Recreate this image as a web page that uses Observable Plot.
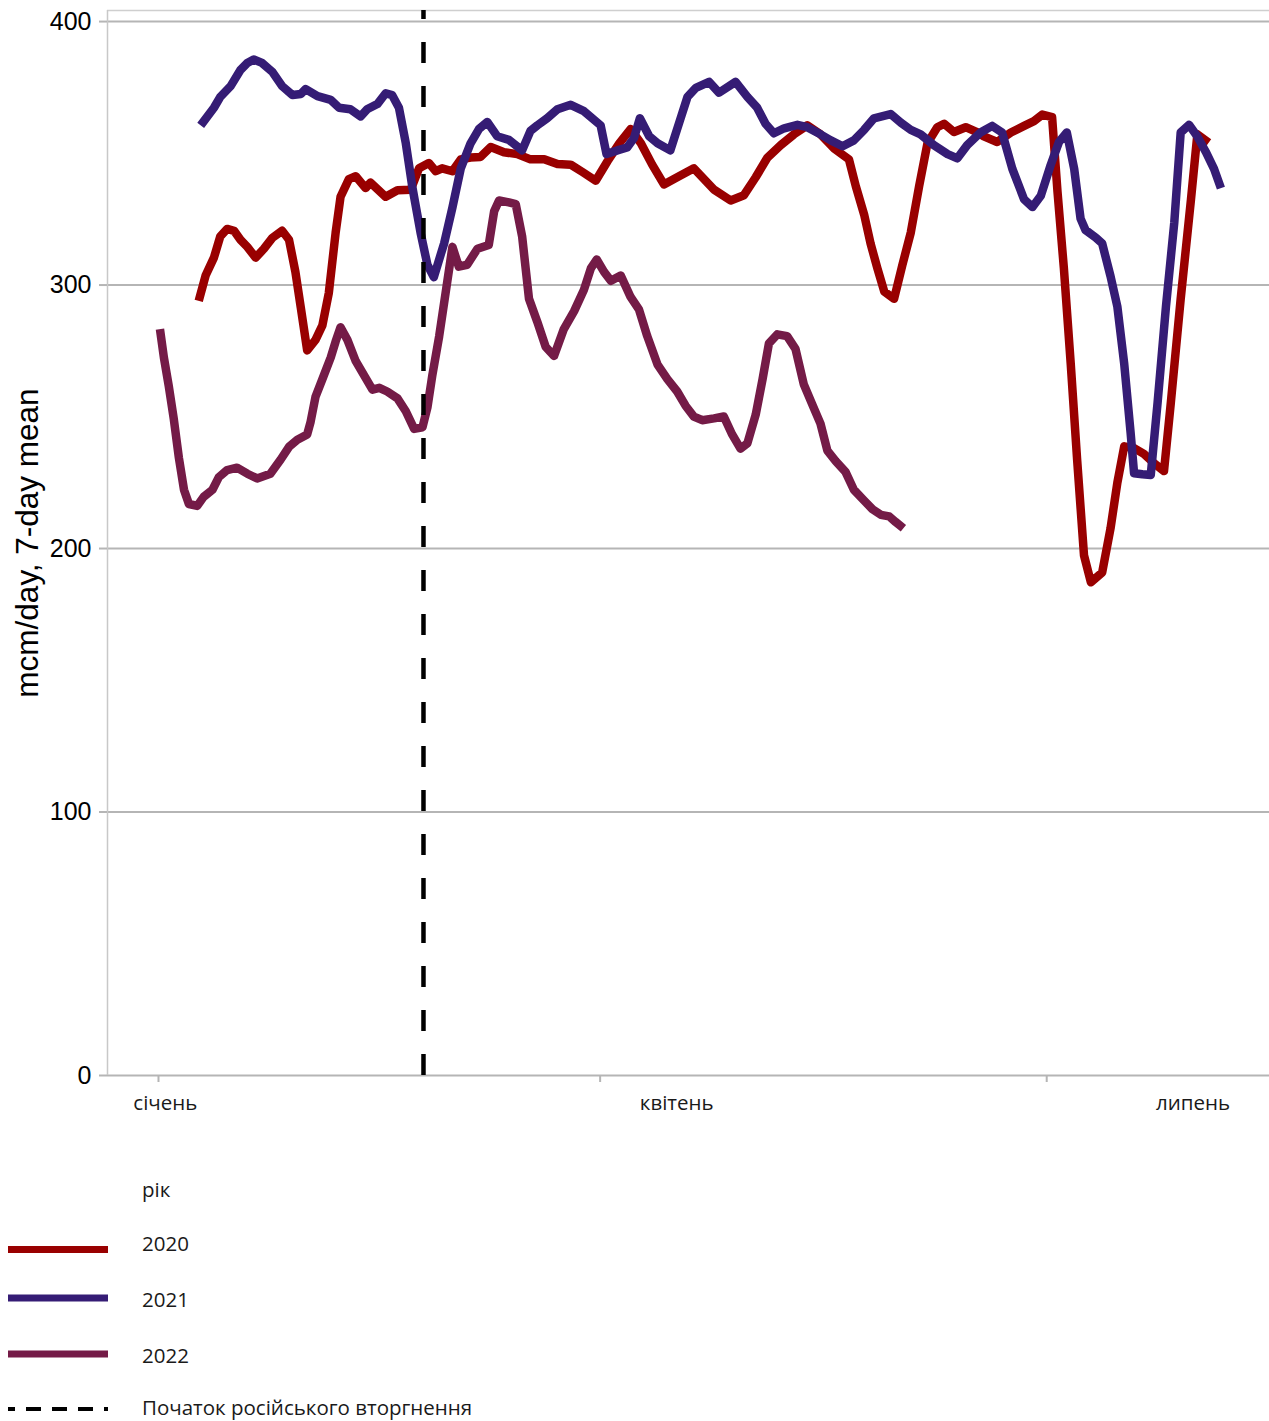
<!DOCTYPE html>
<html><head><meta charset="utf-8">
<script src="https://cdn.jsdelivr.net/npm/d3@7"></script>
<script src="https://cdn.jsdelivr.net/npm/@observablehq/plot@0.6"></script>
<style>
body{margin:0;background:#fff;}
#wrap{position:relative;width:1269px;height:1421px;overflow:hidden;}
#wrap svg{display:block;}
</style></head><body><div id="wrap"></div>
<script>
// ---- data (day of year, Jan 1 = 0) ----
const days2020=[8.2,9.6,11.3,12.6,14,15.4,16.7,18.1,19.8,21.5,23.2,25.2,26.6,27.9,29,30.3,32,33.4,34.7,36.1,37.1,38.8,40.2,42.2,43.2,46.3,48.7,51.4,53.1,55.1,56.5,57.8,59.9,61.6,63.6,65.6,67.7,70.4,73.1,75.8,78.6,81.3,84,86.4,89.1,91.5,93.9,96.2,98.3,100.6,103,105.7,109.1,113.2,116.6,119.3,121.7,124.1,126.8,129.5,132.2,134.9,137.7,140.7,142.1,143.8,145.1,146.5,147.9,149.9,151.6,153.3,155,156.7,158.7,160.1,162.1,164.5,166.9,168.2,170.9,173.7,176.4,178.4,180.1,182.1,183.2,184.5,185.9,187.2,188.6,190,192.3,194,195.4,196.8,198.8,200.8,202.9,204.9,206.3,208.3,210.4,211.7,214];
const vals2020=[294,303.6,310.4,318.5,321.3,320.6,317.2,314.5,310.4,313.8,317.9,320.6,317.2,305,291.4,275.2,279.2,284.7,296.9,319.9,333.5,340.2,341.3,336.8,338.9,333.5,336,336.2,344.3,346.3,343.2,344.3,343.2,347.7,348.4,348.6,352.4,350.4,349.7,347.7,347.7,345.9,345.7,342.9,339.6,347,353.8,359.2,353.8,345.7,338.2,340.9,344.3,336.2,332.1,334.1,340.9,348.4,353.1,357.2,360.6,357.2,351.8,347.7,337.5,326.7,315.8,306.3,297.5,294.8,307.7,319.9,337.5,353.8,359.9,361.2,358.1,359.9,357.9,356.4,354.3,357.9,360.4,362.2,364.7,363.7,335.4,306.3,270,233.7,197.4,187.2,190.9,207.6,225,238.8,238.1,235.9,232.3,229.4,255.5,294.7,332.5,357.2,354];

const days2021=[8.6,11.3,12.6,14.7,16.7,18.1,19.4,21.1,23.2,25.2,27.3,29,30,32.4,35.1,36.8,39.1,41.2,42.5,44.6,46.3,47.6,49,50.4,51.7,53.4,54.8,56.1,58.2,59.9,61.6,63.6,65.3,67,69,71.4,74.1,75.8,77.2,79.2,81.3,84,86.7,90.1,91.3,93.5,95.5,96.9,98.1,100,101.7,104.3,106.4,107.8,109.5,112.2,114.2,117.6,120,122,123.7,125.4,127.5,130.2,132.2,134.9,137,139.4,141.7,143.8,145.8,149.2,151.3,153.3,155.3,158,160.8,162.8,164.8,167.5,169.9,171.9,174,176.4,178.1,179.8,181.8,183.5,185.1,186.6,187.9,188.9,191,192.3,194,195.4,196.8,198.1,198.8,200.5,202.2,203.6,205.3,207,208.3,210,211.7,213.4,215.1,216.5];
const vals2021=[360.6,367.3,371.4,375.5,381.6,384.3,385.6,384.3,380.9,375.5,372.1,372.5,374.4,371.7,370.3,367.3,366.7,364,366.7,368.7,372.8,372.1,367.3,353.8,337.5,319.9,307.7,303,315.8,329.4,344.3,353.8,359.2,361.9,356.5,355.1,351.1,358.5,360.6,363.3,366.7,368.4,366,360.6,349.7,351.1,352.2,355.8,363.3,356.5,353.8,351.1,363.3,371.4,374.8,377.1,373,377.1,371.4,367.3,361.2,357.6,359.5,360.8,359.9,357.2,354.9,352.7,354.9,358.9,363.3,364.9,361.6,358.9,357.2,353.1,349.7,348.1,353.1,357.9,360.4,357.9,344.1,332.5,329.6,333.9,345.5,354.3,357.9,344.1,325.2,320.9,318,315.8,303.4,291.8,270,243.9,228.6,228.2,227.9,255.5,291.8,323.8,357.9,360.8,356.4,350.6,344.1,336.8];

const days2022=[0.3,1.1,2.1,3.1,4.15,5.2,6.2,7.9,9.2,11,12.3,14,16,18.1,20.1,22.8,24.9,26.6,28.3,30.3,31,32,33.4,35.1,36.1,37.1,38.5,40.2,41.9,43.6,45,46.6,48.7,50.4,52.1,53.8,54.8,55.8,57.2,58.5,59.9,61.2,62.9,65,67.3,68.4,69.4,71.4,72.8,74.1,75.5,77.2,78.9,80.6,82.6,84.7,86.7,88.1,89.3,90.8,92.2,94.2,96.2,97.9,99.6,101.7,103.7,105.7,107.4,109.1,110.8,113.2,115.2,116.9,118.6,120,121.7,123.1,124.4,126.1,128.1,129.8,131.5,133.2,134.9,136.3,138,140,141.7,143.8,145.5,147.2,148.9,150.2,151.8];
const vals2022=[283.3,272.5,261.6,249.4,234.5,222.3,216.9,216.2,219.6,222.3,227.1,229.8,230.7,228.4,226.6,228.4,233.8,238.6,241.3,243.3,248.1,257.6,264.3,272.5,278.6,284,279.2,271.1,265.7,260.3,261,259.6,257,252.1,245.4,246,253.5,265.7,280.6,296.9,314.5,307,307.7,313.8,315.2,328,332.1,331.4,330.7,318.5,294.8,286,276.5,273.1,283.3,290.1,298.2,306.3,309.7,305,301.6,303.6,295.5,290.8,280.6,269.8,264.3,259.6,254.2,250.1,248.7,249.4,250.1,243.3,237.9,239.9,250.8,264.3,277.9,281.3,280.6,275.8,262.3,254.8,247.4,237.2,233.2,229.1,222.3,218.2,214.9,212.8,212.2,210.1,207.7];

const years=["2020","2021","2022"];
const colors=["#990000","#351c75","#741b47"];
const yTicks=[0,100,200,300,400];
const xTickDays=[0,90,181];
const monthLabels=["січень","квітень","липень"];
const monthLabelDays=[1.4,105.6,210.8];
const invasionDay=[54];
const yLabel="mcm/day, 7-day mean";
const legendTitle="рік";
const invasionLabel="Початок російського вторгнення";
const xDomain=[-10.39,226.4];
const yDomain=[0,404.2];

const seriesDays=[days2020,days2021,days2022];
const seriesVals=[vals2020,vals2021,vals2022];
const rows=years.flatMap((yr,k)=>seriesDays[k].map((d,i)=>({year:yr,day:d,value:seriesVals[k][i]})));

const gridColor="#b5b5b5";
const chart=Plot.plot({
  width:1269,height:1140,
  marginLeft:107,marginRight:0,marginTop:10,marginBottom:65,
  x:{domain:xDomain},
  y:{domain:yDomain},
  color:{domain:years,range:colors},
  marks:[
    Plot.ruleY(yTicks,{stroke:gridColor,strokeWidth:2}),
    Plot.ruleY([yDomain[1]],{stroke:"#cfcfcf",strokeWidth:1.5}),
    Plot.ruleX([xDomain[0]],{stroke:"#c8c8c8",strokeWidth:1.5}),
    Plot.axisY({ticks:yTicks,tickSize:8,tickPadding:8,fontSize:25,fontFamily:"Liberation Sans, Arial, sans-serif",label:null,stroke:gridColor,strokeWidth:2,fill:"black"}),
    Plot.axisX({ticks:xTickDays,tickSize:7,tickFormat:()=>"",label:null,stroke:gridColor,strokeWidth:2}),
    Plot.text(monthLabels,{x:(d,i)=>monthLabelDays[i],frameAnchor:"bottom",dy:34,fontSize:20.5,fontFamily:"Open Sans, sans-serif",fill:"#1a1a1a"}),
    Plot.text([yLabel],{frameAnchor:"left",textAnchor:"middle",rotate:-90,dx:-80,fontSize:31.5,fontFamily:"Liberation Sans, Arial, sans-serif",fill:"black"}),
    Plot.line(rows,{x:"day",y:"value",z:"year",stroke:"year",strokeWidth:8.5,strokeLinecap:"butt",strokeLinejoin:"round"}),
    Plot.ruleX(invasionDay,{stroke:"black",strokeWidth:4.5,strokeDasharray:"21,23",strokeDashoffset:12})
  ]
});
document.getElementById("wrap").appendChild(chart);

// ---- legend ----
const leg=d3.select("#wrap").append("svg").attr("width",1269).attr("height",281);
const legFont="Open Sans, sans-serif";
const legSize=20.5;
leg.append("text").attr("x",142).attr("y",57).attr("font-family",legFont).attr("font-size",legSize).attr("fill","#1a1a1a").text(legendTitle);
const lineY=[109.5,158,214];
const textY=[111,167,223];
years.forEach((yr,i)=>{
  leg.append("line").attr("x1",8).attr("x2",108).attr("y1",lineY[i]).attr("y2",lineY[i]).attr("stroke",colors[i]).attr("stroke-width",7);
  leg.append("text").attr("x",142).attr("y",textY[i]).attr("font-family",legFont).attr("font-size",legSize).attr("fill","#1a1a1a").text(yr);
});
leg.append("line").attr("x1",8).attr("x2",108).attr("y1",269).attr("y2",269).attr("stroke","black").attr("stroke-width",4).attr("stroke-dasharray","15,11").attr("stroke-dashoffset",8);
leg.append("text").attr("x",142).attr("y",275).attr("font-family",legFont).attr("font-size",legSize).attr("fill","#1a1a1a").text(invasionLabel);
</script></body></html>
